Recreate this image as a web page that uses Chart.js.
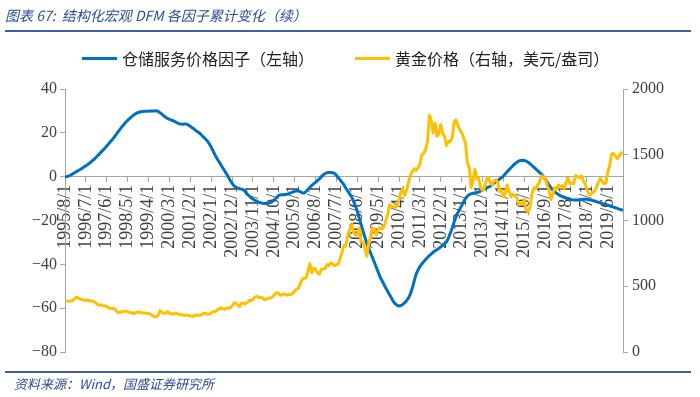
<!DOCTYPE html>
<html>
<head>
<meta charset="utf-8">
<script src="https://cdn.jsdelivr.net/npm/chart.js@4.4.1/dist/chart.umd.min.js"></script>
<style>
  html, body { margin: 0; padding: 0; background: #fff; }
  #wrap { position: relative; width: 700px; height: 397px; overflow: hidden; }
  #c { position: absolute; left: 0; top: 0; }
  .title { position: absolute; left: 5px; top: 6px; font: italic 14px "Noto Sans CJK SC", sans-serif; color: #2B4C9B; white-space: nowrap; line-height: 18px; }
  .rule { position: absolute; left: 5px; width: 686px; height: 2px; background: #3E5DA8; }
  .foot { position: absolute; left: 14px; top: 376px; font: italic 13px "Noto Sans CJK SC", sans-serif; color: #2B4C9B; white-space: nowrap; line-height: 16px; }
  .lg-line { position: absolute; height: 3px; width: 35px; }
  .lg-text { position: absolute; font: 16px "Noto Sans CJK SC", sans-serif; color: #222; white-space: nowrap; line-height: 18px; }
</style>
</head>
<body>
<div id="wrap">
  <canvas id="c" width="700" height="397"></canvas>
  <div class="title">图表 67:&nbsp; 结构化宏观 DFM 各因子累计变化（续）</div>
  <div class="rule" style="top:30px"></div>
  <div class="lg-line" style="left:82px; top:57px; background:#0070C0"></div>
  <div class="lg-text" id="lg1" style="left:122px; top:49px"></div>
  <div class="lg-line" style="left:355px; top:57px; background:#FFC000"></div>
  <div class="lg-text" id="lg2" style="left:395px; top:49px"></div>
  <div class="rule" style="top:371px"></div>
  <div class="foot">资料来源：Wind，国盛证券研究所</div>
</div>
<script>
// ---- data ----
const seriesNames = ['仓储服务价格因子（左轴）', '黄金价格（右轴，美元/盎司）'];
const startYear = 1995, startMonth = 8, monthCount = 295; // 1995/8 .. 2020/2

const tickLabels = ['1995/8/1','1996/7/1','1997/6/1','1998/5/1','1999/4/1','2000/3/1','2001/2/1',
  '2002/1/1','2002/12/1','2003/11/1','2004/10/1','2005/9/1','2006/8/1','2007/7/1','2008/6/1',
  '2009/5/1','2010/4/1','2011/3/1','2012/2/1','2013/1/1','2013/12/1','2014/11/1','2015/10/1',
  '2016/9/1','2017/8/1','2018/7/1','2019/6/1'];

const leftTicks = [40, 20, 0, -20, -40, -60, -80];
const rightTicks = [2000, 1500, 1000, 500, 0];

const storageFactor = [
  0, 0, 0.3, 0.7, 1.2,
  1.8, 2.3, 2.8, 3.3, 3.8, 4.4, 5.0, 5.6, 6.2, 7.0, 7.7, 8.5,
  9.4, 10.3, 11.2, 12.1, 13.0, 14.0, 15.0, 16.0, 17.0, 18.1, 19.3, 20.5,
  21.6, 22.8, 23.8, 24.8, 25.7, 26.5, 27.3, 28.0, 28.6, 29.1, 29.4, 29.6,
  29.7, 29.8, 29.8, 29.9, 30.0, 30.0, 30.0, 30.1, 29.8, 29.2, 28.6, 27.8,
  27.1, 26.6, 26.2, 25.8, 25.5, 25.1, 24.6, 24.2, 24.0, 23.9, 24.0, 24.0,
  23.6, 23.0, 22.3, 21.7, 21.0, 20.4, 19.8, 18.9, 18.0, 17.2, 16.3, 15.0,
  13.5, 11.8, 10.0, 8.4, 7.0, 5.6, 4.2, 2.8, 1.4, 0.0, -1.6, -3.0,
  -4.2, -4.8, -5.2, -5.5, -5.7, -6.0, -6.9, -7.9, -8.8, -9.6, -10.2, -10.8,
  -11.2, -11.6, -11.9, -12.1, -12.2, -12.2, -12.1, -11.9, -11.5, -10.9, -10.0, -9.0,
  -8.4, -8.3, -8.2, -8.1, -8.0, -7.7, -7.4, -7.0, -6.7, -6.5, -6.4, -6.9,
  -7.4, -7.5, -6.8, -5.9, -4.9, -4.0, -3.3, -2.6, -1.8, -1.0, -0.1, 0.8,
  1.4, 1.8, 1.9, 1.9, 1.8, 1.5, 0.6, -0.5, -1.5, -2.6, -3.8, -5.3,
  -6.6, -7.9, -9.2, -11.1, -13.4, -15.8, -18.8, -21.8, -24.7, -27.6, -30.4, -32.6,
  -34.8, -36.9, -39.1, -41.3, -43.5, -45.7, -47.4, -49.1, -50.8, -52.3, -53.9, -55.4,
  -57.0, -58.0, -58.7, -59.0, -58.8, -58.3, -57.5, -56.5, -55.3, -53.5, -50.8, -47.5,
  -44.5, -42.6, -41.0, -39.8, -38.8, -37.8, -36.9, -36.0, -35.2, -34.5, -33.8, -33.3,
  -32.7, -32.0, -31.3, -30.6, -29.8, -28.0, -25.8, -23.4, -20.8, -18.3, -16.4, -14.8,
  -13.2, -11.5, -10.0, -8.9, -8.2, -7.8, -7.6, -7.4, -7.2, -7.0, -6.6, -6.0,
  -5.6, -5.2, -4.8, -4.4, -3.8, -3.0, -2.3, -1.7, -1.1, -0.5, 0.3, 1.3,
  2.3, 3.2, 4.1, 5.0, 5.8, 6.5, 7.1, 7.4, 7.5, 7.4, 7.1, 6.6,
  5.9, 5.1, 4.3, 3.6, 2.8, 2.0, 1.2, 0.1, -1.1, -2.4, -3.8, -5.0,
  -6.1, -7.0, -7.6, -8.2, -8.7, -9.1, -9.5, -9.8, -10.1, -10.3, -10.5, -10.6,
  -10.6, -10.6, -10.5, -10.4, -10.3, -10.3, -10.3, -10.5, -10.7, -10.9, -11.1, -11.4,
  -11.7, -11.9, -12.2, -12.4, -12.7, -13.0, -13.3, -13.6, -13.9, -14.2, -14.5, -14.8,
  -15.1, -15.4
];

const goldPrice = [
  390, 388, 386, 388, 392,
  405, 418, 410, 402, 400, 394, 392, 395, 390, 388, 384, 376,
  362, 356, 360, 352, 350, 348, 334, 332, 330, 330, 314, 300,
  300, 308, 306, 314, 306, 300, 300, 290, 298, 304, 302, 300,
  296, 296, 294, 292, 288, 276, 270, 268, 276, 314, 302, 294,
  294, 306, 296, 292, 288, 294, 292, 286, 285, 282, 278, 282,
  278, 274, 274, 272, 282, 280, 278, 284, 294, 294, 288, 288,
  295, 308, 306, 315, 328, 336, 328, 324, 334, 332, 334, 350,
  372, 374, 356, 346, 370, 372, 366, 376, 392, 392, 400, 416,
  424, 414, 416, 414, 396, 402, 408, 410, 414, 430, 448, 452,
  434, 432, 442, 438, 432, 440, 434, 446, 464, 478, 486, 520,
  556, 560, 562, 614, 672, 604, 636, 632, 602, 592, 628, 630,
  636, 664, 656, 678, 668, 656, 666, 668, 716, 760, 810, 806,
  892, 930, 975, 912, 890, 892, 945, 836, 834, 790, 728, 830,
  870, 945, 930, 890, 930, 946, 934, 950, 998, 1044, 1120, 1110,
  1105, 1100, 1115, 1160, 1215, 1240, 1190, 1230, 1290, 1345, 1372, 1395,
  1380, 1400, 1430, 1500, 1510, 1540, 1600, 1800, 1760, 1665, 1740, 1640,
  1660, 1730, 1660, 1640, 1570, 1600, 1600, 1630, 1750, 1765, 1720, 1690,
  1670, 1630, 1590, 1440, 1400, 1250, 1300, 1390, 1320, 1320, 1250, 1230,
  1250, 1310, 1330, 1290, 1270, 1300, 1310, 1290, 1220, 1230, 1180, 1210,
  1270, 1220, 1180, 1200, 1190, 1175, 1120, 1130, 1125, 1160, 1080, 1065,
  1100, 1200, 1250, 1240, 1270, 1290, 1340, 1330, 1325, 1270, 1230, 1160,
  1200, 1250, 1240, 1270, 1250, 1265, 1240, 1290, 1320, 1280, 1285, 1280,
  1340, 1335, 1325, 1340, 1305, 1280, 1235, 1200, 1195, 1215, 1220, 1255,
  1290, 1320, 1300, 1280, 1285, 1370, 1420, 1505, 1510, 1490, 1470, 1490,
  1515, 1510
];

// monthly category labels
const months = [];
for (let i = 0; i < monthCount; i++) {
  const m0 = startMonth - 1 + i;
  months.push((startYear + Math.floor(m0 / 12)) + '/' + (m0 % 12 + 1) + '/1');
}
const tickSet = new Set(tickLabels);

document.getElementById('lg1').textContent = seriesNames[0];
document.getElementById('lg2').textContent = seriesNames[1];

const axisGray = '#A6A6A6';
const labelColor = '#404040';

new Chart(document.getElementById('c'), {
  type: 'line',
  data: {
    labels: months,
    datasets: [
      { label: seriesNames[0], data: storageFactor, yAxisID: 'y', borderColor: '#0070C0', backgroundColor: '#0070C0',
        borderWidth: 3, pointRadius: 0, tension: 0, borderJoinStyle: 'round', order: 2 },
      { label: seriesNames[1], data: goldPrice, yAxisID: 'y1', borderColor: '#FFC000', backgroundColor: '#FFC000',
        borderWidth: 3, pointRadius: 0, tension: 0, borderJoinStyle: 'round', order: 1 }
    ]
  },
  options: {
    responsive: false,
    animation: false,
    events: [],
    layout: { padding: { top: 89, bottom: 45, left: 0, right: 0 } },
    plugins: { legend: { display: false }, tooltip: { enabled: false }, title: { display: false } },
    scales: {
      x: {
        type: 'category',
        position: { y: 0 },
        offset: false,
        grid: { drawOnChartArea: false, drawTicks: true, tickLength: 5, color: axisGray, offset: false },
        border: { color: axisGray, width: 1 },
        ticks: {
          autoSkip: false, minRotation: 90, maxRotation: 90, padding: 3,
          color: labelColor, font: { family: '"Liberation Serif", serif', size: 18 },
          callback: function (v) { const l = this.getLabelForValue(v); return tickSet.has(l) ? l : null; }
        }
      },
      y: {
        position: 'left', min: -80, max: 40,
        afterBuildTicks: s => { s.ticks = leftTicks.map(v => ({ value: v })); },
        afterFit: s => { s.width = 65; },
        grid: { drawOnChartArea: false, drawTicks: true, tickLength: 5, color: axisGray },
        border: { color: axisGray, width: 1 },
        ticks: { padding: 3, color: labelColor, font: { family: '"Liberation Serif", serif', size: 16 },
          callback: v => String(v).replace('-', '−') }
      },
      y1: {
        position: 'right', min: 0, max: 2000,
        afterBuildTicks: s => { s.ticks = rightTicks.map(v => ({ value: v })); },
        afterFit: s => { s.width = 77; },
        grid: { drawOnChartArea: false, drawTicks: true, tickLength: 5, color: axisGray },
        border: { color: axisGray, width: 1 },
        ticks: { padding: 4, color: labelColor, font: { family: '"Liberation Serif", serif', size: 16 },
          callback: v => String(v) }
      }
    }
  }
});
</script>
</body>
</html>
